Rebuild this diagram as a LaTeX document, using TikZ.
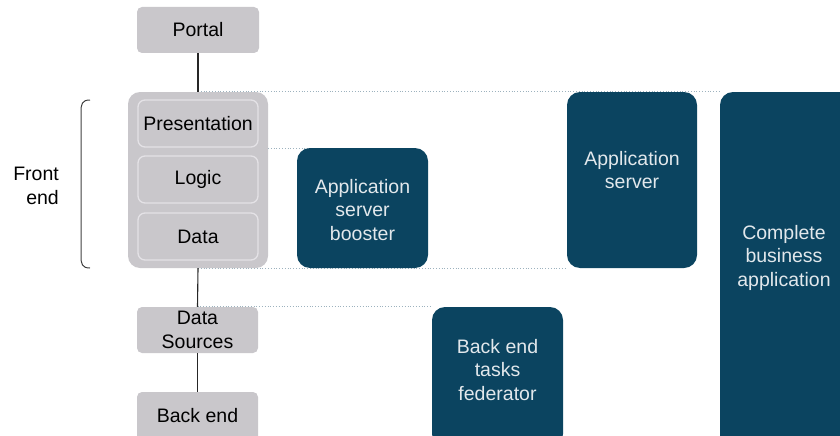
\documentclass[tikz,border=0pt]{standalone}
\usepackage{fontspec}
\setmainfont{Liberation Sans}
\definecolor{boxgray}{HTML}{C9C7CB}
\definecolor{innerline}{HTML}{E4E2E6}
\definecolor{teal}{HTML}{0B4460}
\definecolor{tealtext}{HTML}{E2E8EC}
\definecolor{guidecol}{HTML}{9DB2BE}
\pgfdeclarelayer{background}
\pgfsetlayers{background,main}
\begin{document}
\begin{tikzpicture}[x=1pt,y=-1pt,
  font=\fontsize{19.5}{23.5}\selectfont,
  graybox/.style={draw=none,fill=boxgray,rounded corners=5pt,inner sep=0pt,align=center,text=black},
  innerbox/.style={draw=innerline,line width=1.3pt,fill=boxgray,rounded corners=7pt,inner sep=0pt,align=center,text=black},
  tealbox/.style={draw=none,fill=teal,rounded corners=13pt,inner sep=0pt},
  tealtxt/.style={text=tealtext,align=center,inner sep=0pt},
  guide/.style={draw=guidecol,line width=0.8pt,dotted},
  link/.style={draw=black!85,line width=1.1pt}]
\useasboundingbox (0,0) rectangle (840,436);
% boxes
\node[graybox,minimum width=140pt,minimum height=176pt,rounded corners=12pt] (cont) at (198,180) {};
\node[tealbox,minimum width=130pt,minimum height=176pt] (appsrv) at (632,180) {};
\node[tealbox,minimum width=132pt,minimum height=360pt] (cbiz) at (786,272) {};
\node[tealbox,minimum width=131pt,minimum height=140pt] (fed) at (497.5,377) {};
\node[tealbox,minimum width=131pt,minimum height=120pt] (boost) at (362.5,208) {};
\node[tealtxt] (boosttxt) at (362.5,210) {Application\\server\\booster};
\node[tealtxt] (apptxt) at (632,170) {Application\\server};
\node[tealtxt] (cbiztxt) at (784,257.5) {Complete\\business\\application};
\node[tealtxt] (fedtxt) at (497.5,370) {Back end\\tasks\\federator};
\node[innerbox,minimum width=120pt,minimum height=47pt] (pres) at (198,123.5) {Presentation};
\node[innerbox,minimum width=120pt,minimum height=47pt] (logic) at (198,179.5) {Logic};
\node[innerbox,minimum width=120pt,minimum height=47pt] (data) at (198,236.5) {Data};
\node[graybox,minimum width=122pt,minimum height=46pt] (portal) at (198,30) {\raisebox{-1.5pt}{Portal}};
\node[graybox,minimum width=121pt,minimum height=46pt] (ds) at (197.5,330) {Data\\Sources};
\node[graybox,minimum width=121pt,minimum height=52pt] (be) at (197.5,418) {};
\node[text=black,inner sep=0pt] (betxt) at (197.5,415.5) {Back end};
% guides behind the boxes
\coordinate (g2a) at (268,148);
\coordinate (g2b) at (345,148);
\begin{pgfonlayer}{background}
\path[guide] (cont.north) -- (cbiz.north west);
\path[guide] (g2a) -- (g2b);
\path[guide] (cont.south) -- (appsrv.south west);
\path[guide] (ds.north) -- (fed.north west);
\end{pgfonlayer}
% links
\path[link] (portal.south) -- (cont.north);
\path[link] (cont.south) -- (ds.north);
\path[link] (ds.south) -- (be.north);
% bracket
\draw[black!75,line width=1pt] (90,100) .. controls (82,100) and (81,104) .. (81,112) -- (81,256) .. controls (81,264) and (82,268) .. (90,268);
\node[align=right,inner sep=0pt,anchor=east,text=black] (fe) at (59,186) {Front\\end};
\end{tikzpicture}
\end{document}
